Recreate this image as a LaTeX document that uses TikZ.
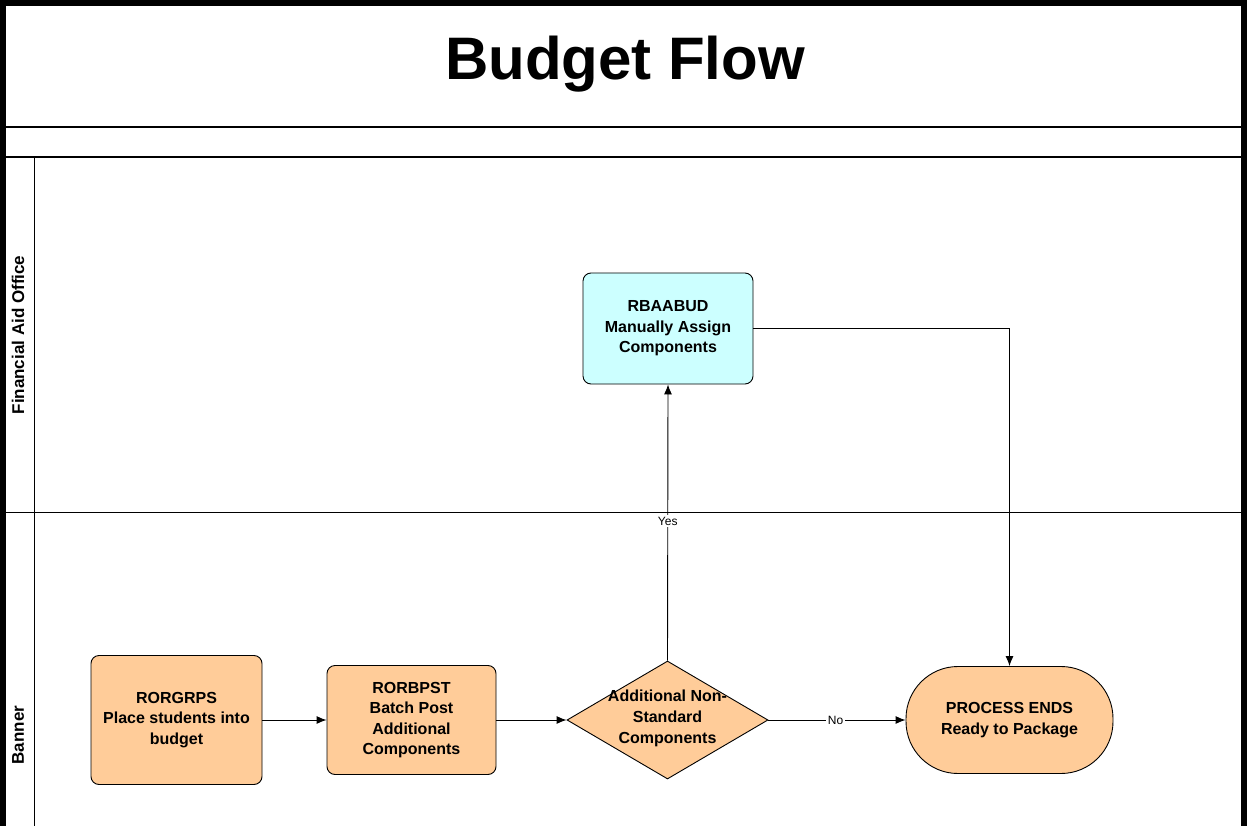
\documentclass[tikz,border=0pt]{standalone}
\usepackage{fontspec}
\setmainfont{Liberation Sans}
\usetikzlibrary{arrows.meta,shapes.geometric}
\definecolor{boxorange}{HTML}{FFCC99}
\definecolor{boxcyan}{HTML}{CCFFFF}
\tikzset{
  proc/.style={draw=black, line width=0.9pt, rounded corners=8pt, align=center,
    font=\bfseries\fontsize{16}{20.5}\selectfont, inner sep=0pt},
  decis/.style={draw=black, line width=0.9pt, diamond, fill=boxorange, inner sep=0pt,
    minimum width=201pt, minimum height=118pt},
  termin/.style={draw=black, line width=0.9pt, fill=boxorange, rounded corners=52pt,
    minimum width=207pt, minimum height=107pt, align=center, inner sep=0pt,
    font=\bfseries\fontsize{16}{20.5}\selectfont},
  flow/.style={draw=black, line width=0.9pt, -{Latex[length=10pt,width=8pt]}},
  edgelbl/.style={fill=white, inner sep=1.5pt, font=\fontsize{12}{13}\selectfont},
  lanelbl/.style={rotate=90, font=\bfseries\fontsize{17}{18}\selectfont},
}
\begin{document}
\begin{tikzpicture}[x=1pt,y=-1pt]
\useasboundingbox (0,0) rectangle (1247,826);
% frame
\draw[line width=6pt] (3,860) -- (3,3) -- (1244,3) -- (1244,860);
\draw[line width=2.5pt] (5,127) -- (1242,127);
\draw[line width=1.2pt] (5,157) -- (1242,157);
\draw[line width=1pt] (5,512) -- (1242,512);
\draw[line width=1pt] (34,157) -- (34,830);
% title
\node[font=\bfseries\fontsize{60}{66}\selectfont] (title) at (625,64) {Budget Flow};
% lane labels
\node[lanelbl] (lfao) at (18,335) {Financial Aid Office};
\node[lanelbl] (lban) at (18,735) {Banner};
% nodes
\node[proc, fill=boxcyan, minimum width=170pt, minimum height=111pt] (rb) at (668,328.5)
  {RBAABUD\\Manually Assign\\Components};
\node[proc, fill=boxorange, minimum width=171pt, minimum height=129pt] (rg) at (176.5,720)
  {RORGRPS\\Place students into\\budget};
\node[proc, fill=boxorange, minimum width=169pt, minimum height=109pt] (rp) at (411.5,720)
  {RORBPST\\Batch Post\\Additional\\Components};
\node[decis] (dia) at (667.5,720) {};
\node[align=center, font=\bfseries\fontsize{16}{21}\selectfont] (diat) at (667.5,718)
  {Additional Non-\\Standard\\Components};
\node[termin] (term) at (1009.5,720) {PROCESS ENDS\\Ready to Package};
% connectors
\draw[flow] (rg.east) -- (rp.west);
\draw[flow] (rp.east) -- (dia.west);
\draw[flow] (dia.north) -- node[edgelbl, pos=0.505] {Yes} (rb.south);
\draw[flow] (dia.east) -- node[edgelbl, pos=0.49] {No} (term.west);
\draw[flow] (rb.east) -| (term.north);
\end{tikzpicture}
\end{document}
